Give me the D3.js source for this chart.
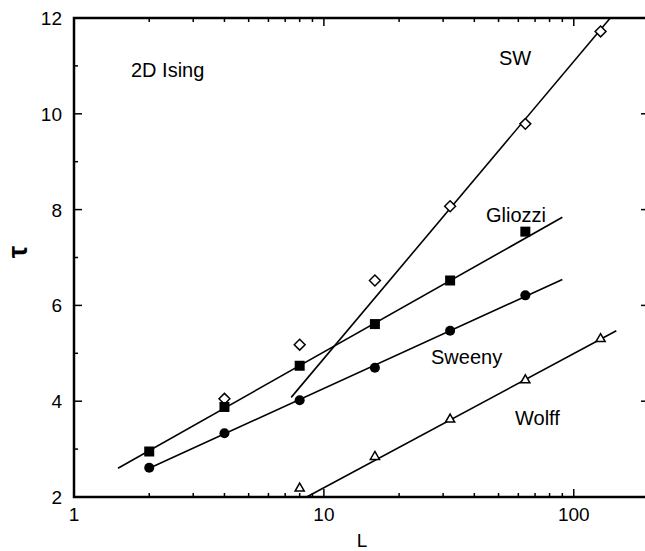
<!DOCTYPE html>
<html>
<head>
<meta charset="utf-8">
<script src="https://cdn.jsdelivr.net/npm/d3@7"></script>
<style>
  body { margin: 0; background: #fff; }
  text { font-family: "Liberation Sans", Arial, sans-serif; }
</style>
</head>
<body>
<svg id="chart" width="645" height="551"></svg>
<script>
// measured L values and autocorrelation times
var swL = [4, 8, 16, 32, 64, 128];
var swTau = [4.05, 5.18, 6.52, 8.07, 9.79, 11.72];
var gliozziL = [2, 4, 8, 16, 32, 64];
var gliozziTau = [2.95, 3.88, 4.74, 5.61, 6.52, 7.54];
var sweenyL = [2, 4, 8, 16, 32, 64];
var sweenyTau = [2.61, 3.33, 4.02, 4.70, 5.47, 6.21];
var wolffL = [8, 16, 32, 64, 128];
var wolffTau = [2.18, 2.84, 3.62, 4.44, 5.30];

// fitted straight lines (end points, L and tau)
var swFit = [[7.4, 4.08], [140, 12]];
var gliozziFit = [[1.5, 2.60], [90, 7.84]];
var sweenyFit = [[2, 2.60], [90, 6.54]];
var wolffFit = [[8.53, 2.0], [148, 5.47]];

var xTicks = [1, 10, 100];
var yTicks = [2, 4, 6, 8, 10, 12];

var svg = d3.select("#chart");

var x = d3.scaleLog().domain([1, 200]).range([74, 649]);
var y = d3.scaleLinear().domain([2, 12]).range([497, 18]);

var line = d3.line()
    .x(function(d) { return x(d[0]); })
    .y(function(d) { return y(d[1]); });

// minor ticks
var xMinor = [];
[1, 10, 100].forEach(function(dec) {
  for (var k = 2; k <= 9; k++) if (dec * k <= 200) xMinor.push(dec * k);
});
var yMinor = [3, 5, 7, 9, 11];

var ticks = svg.append("g").attr("stroke", "#000").attr("stroke-width", 1.5);
xTicks.forEach(function(v) {
  ticks.append("line").attr("x1", x(v)).attr("x2", x(v)).attr("y1", y(2)).attr("y2", y(2) - 8);
  ticks.append("line").attr("x1", x(v)).attr("x2", x(v)).attr("y1", y(12)).attr("y2", y(12) + 8);
});
xMinor.forEach(function(v) {
  ticks.append("line").attr("x1", x(v)).attr("x2", x(v)).attr("y1", y(2)).attr("y2", y(2) - 4);
  ticks.append("line").attr("x1", x(v)).attr("x2", x(v)).attr("y1", y(12)).attr("y2", y(12) + 4);
});
yTicks.forEach(function(v) {
  ticks.append("line").attr("x1", x(1)).attr("x2", x(1) + 8).attr("y1", y(v)).attr("y2", y(v));
  ticks.append("line").attr("x1", x(200)).attr("x2", x(200) - 8).attr("y1", y(v)).attr("y2", y(v));
});
yMinor.forEach(function(v) {
  ticks.append("line").attr("x1", x(1)).attr("x2", x(1) + 4).attr("y1", y(v)).attr("y2", y(v));
  ticks.append("line").attr("x1", x(200)).attr("x2", x(200) - 4).attr("y1", y(v)).attr("y2", y(v));
});

// frame
svg.append("rect")
    .attr("x", x(1)).attr("y", y(12))
    .attr("width", x(200) - x(1)).attr("height", y(2) - y(12))
    .attr("fill", "none").attr("stroke", "#000").attr("stroke-width", 2.5);

// tick labels
svg.selectAll(".xl").data(xTicks).enter().append("text")
    .attr("x", function(d) { return x(d); })
    .attr("y", 521)
    .attr("text-anchor", "middle")
    .attr("font-size", 19)
    .text(function(d) { return d; });

svg.selectAll(".yl").data(yTicks).enter().append("text")
    .attr("x", 62)
    .attr("y", function(d) { return y(d) + 7; })
    .attr("text-anchor", "end")
    .attr("font-size", 19)
    .text(function(d) { return d; });

svg.append("text").attr("x", 362).attr("y", 547).attr("text-anchor", "middle")
    .attr("font-size", 19).text("L");
svg.append("text").attr("transform", "translate(27,252) rotate(-90)")
    .attr("text-anchor", "middle").attr("font-size", 28).attr("font-weight", "bold")
    .text("τ");

// fit lines
var plot = svg.append("g");
[swFit, gliozziFit, sweenyFit, wolffFit].forEach(function(f) {
  plot.append("path").attr("d", line(f))
      .attr("fill", "none").attr("stroke", "#000").attr("stroke-width", 1.6);
});

// markers
var sym = function(type, size) { return d3.symbol().type(type).size(size)(); };

plot.selectAll(".sw").data(d3.zip(swL, swTau)).enter().append("path")
    .attr("transform", function(d) { return "translate(" + x(d[0]) + "," + y(d[1]) + ")"; })
    .attr("d", sym(d3.symbolDiamond2, 75))
    .attr("fill", "#fff").attr("stroke", "#000").attr("stroke-width", 1.5);

plot.selectAll(".gl").data(d3.zip(gliozziL, gliozziTau)).enter().append("rect")
    .attr("x", function(d) { return x(d[0]) - 5; })
    .attr("y", function(d) { return y(d[1]) - 5; })
    .attr("width", 10).attr("height", 10)
    .attr("fill", "#000");

plot.selectAll(".swy").data(d3.zip(sweenyL, sweenyTau)).enter().append("circle")
    .attr("cx", function(d) { return x(d[0]); })
    .attr("cy", function(d) { return y(d[1]); })
    .attr("r", 5)
    .attr("fill", "#000");

plot.selectAll(".wf").data(d3.zip(wolffL, wolffTau)).enter().append("path")
    .attr("transform", function(d) { return "translate(" + x(d[0]) + "," + y(d[1]) + ")"; })
    .attr("d", sym(d3.symbolTriangle2, 60))
    .attr("fill", "#fff").attr("stroke", "#000").attr("stroke-width", 1.5);

// annotations
var notes = [
  ["2D Ising", 131, 77],
  ["SW", 499, 65],
  ["Gliozzi", 486, 222],
  ["Sweeny", 431, 364],
  ["Wolff", 515, 425]
];
svg.selectAll(".note").data(notes).enter().append("text")
    .attr("x", function(d) { return d[1]; })
    .attr("y", function(d) { return d[2]; })
    .attr("font-size", 20)
    .text(function(d) { return d[0]; });
</script>
</body>
</html>
